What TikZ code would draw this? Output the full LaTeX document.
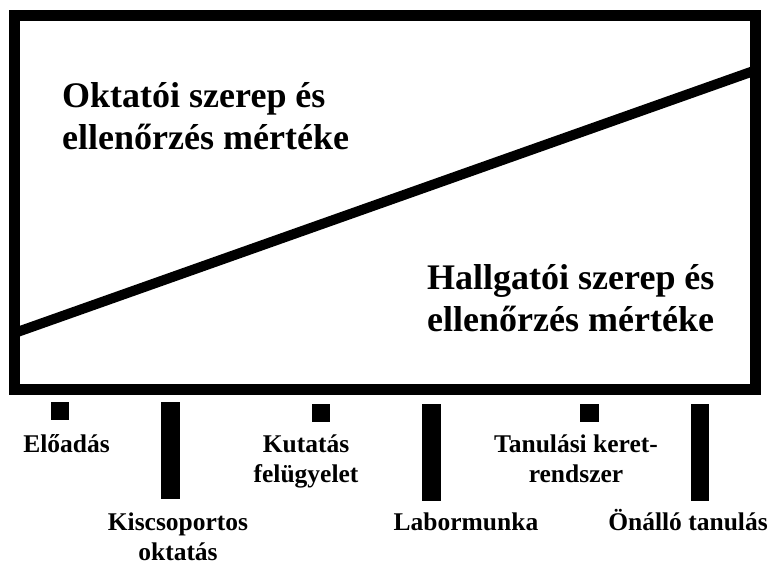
\documentclass[tikz,border=0pt]{standalone}
\usepackage{fontspec}
\setmainfont{Liberation Serif}
\usepackage{tikz}
\usetikzlibrary{positioning}
\tikzset{
  frame/.style={draw, line width=11pt},
  slope/.style={draw, line width=10pt},
  lowmark/.style={fill=black, inner sep=0pt, minimum width=18pt, minimum height=18pt, anchor=north west},
  highmark/.style={fill=black, inner sep=0pt, minimum width=19pt, minimum height=97pt, anchor=north west},
  bigtxt/.style={font=\fontsize{36}{42}\selectfont\bfseries, align=left, inner sep=0pt, anchor=base west},
  lbl/.style={font=\fontsize{25.5}{30}\selectfont\bfseries, align=center, inner sep=0pt, anchor=base},
}
\begin{document}
\begin{tikzpicture}[x=1pt, y=-1pt]
\useasboundingbox (0,0) rectangle (771,562);
% box and dividing line
\coordinate (sl) at (14.5,333);
\coordinate (sr) at (755,70.5);
\draw[slope] (sl) -- (sr);
\draw[frame] (14.5,15) rectangle (755,389);
\node[bigtxt] (teach) at (62,149) {Oktatói szerep és\\ellenőrzés mértéke};
\node[bigtxt] (stud) at (427,331) {Hallgatói szerep és\\ellenőrzés mértéke};
% marks below the box
\node[lowmark] (m1) at (51,402) {};
\node[highmark] (m2) at (161,402) {};
\node[lowmark] (m3) at (312,404) {};
\node[highmark] (m4) at (422,404) {};
\node[lowmark, minimum width=19pt] (m5) at (580,404) {};
\node[highmark, minimum width=18pt] (m6) at (691,404) {};
% labels
\node[lbl] (lec) at (66.5,452) {Előadás};
\node[lbl] (res) at (306,482) {Kutatás\\felügyelet};
\node[lbl] (frm) at (576,482) {Tanulási keret-\\rendszer};
\node[lbl] (grp) at (178,560) {Kiscsoportos\\oktatás};
\node[lbl] (lab) at (466,530) {Labormunka};
\node[lbl] (self) at (688,530) {Önálló tanulás};
\end{tikzpicture}
\end{document}
